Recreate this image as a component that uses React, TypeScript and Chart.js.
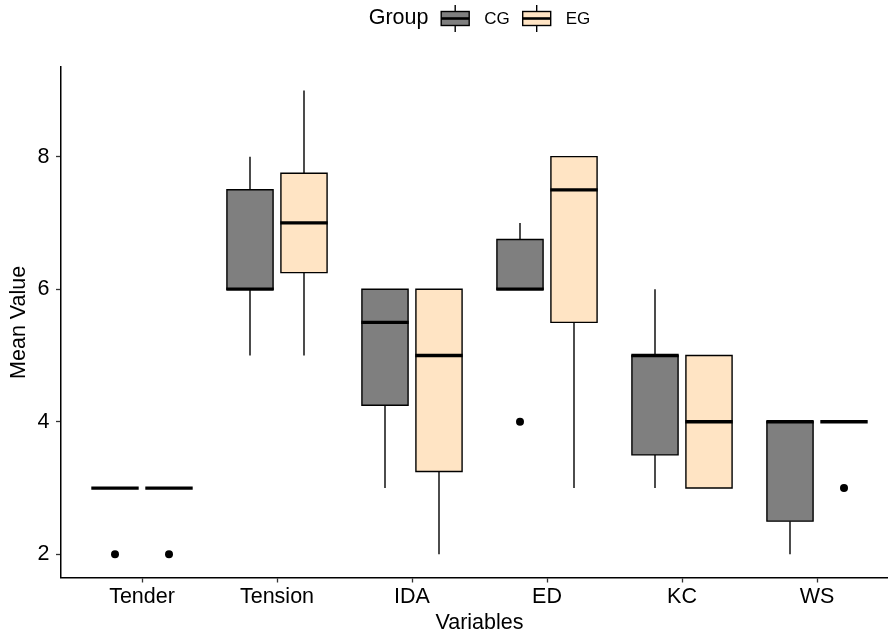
import React, { useEffect, useRef } from 'react';
import { Chart, registerables } from 'chart.js';

Chart.register(...registerables);

const categories = ['Tender', 'Tension', 'IDA', 'ED', 'KC', 'WS'];
const yTicks = [2, 4, 6, 8];

const cgLower = [3, 5, 3, 6, 3, 2];
const cgQ1 = [3, 6, 4.25, 6, 3.5, 2.5];
const cgMedian = [3, 6, 5.5, 6, 5, 4];
const cgQ3 = [3, 7.5, 6, 6.75, 5, 4];
const cgUpper = [3, 8, 6, 7, 6, 4];
const cgOutliers: number[][] = [[2], [], [], [4], [], []];

const egLower = [3, 5, 2, 3, 3, 4];
const egQ1 = [3, 6.25, 3.25, 5.5, 3, 4];
const egMedian = [3, 7, 5, 7.5, 4, 4];
const egQ3 = [3, 7.75, 6, 8, 5, 4];
const egUpper = [3, 9, 6, 8, 5, 4];
const egOutliers: number[][] = [[2], [], [], [], [], [3]];

const groupNames = ['CG', 'EG'];
const groupColors = ['#7F7F7F', '#FFE4C4'];
const legendTitle = 'Group';

const FONT = "'Liberation Sans', Arial, Helvetica, sans-serif";

const groups = [
  { lower: cgLower, q1: cgQ1, median: cgMedian, q3: cgQ3, upper: cgUpper, outliers: cgOutliers },
  { lower: egLower, q1: egQ1, median: egMedian, q3: egQ3, upper: egUpper, outliers: egOutliers },
];

const boxPlugin = {
  id: 'boxExtras',
  beforeDatasetsDraw(chart: any) {
    const ctx = chart.ctx;
    const y = chart.scales.y;
    ctx.save();
    groups.forEach((g, di) => {
      const meta = chart.getDatasetMeta(di);
      meta.data.forEach((bar: any, i: number) => {
        const { x } = bar.getProps(['x'], true);
        ctx.strokeStyle = '#000';
        ctx.lineWidth = 1.4;
        ctx.beginPath();
        ctx.moveTo(x, y.getPixelForValue(g.q3[i]));
        ctx.lineTo(x, y.getPixelForValue(g.upper[i]));
        ctx.moveTo(x, y.getPixelForValue(g.q1[i]));
        ctx.lineTo(x, y.getPixelForValue(g.lower[i]));
        ctx.stroke();
        ctx.fillStyle = '#000';
        g.outliers[i].forEach((v) => {
          ctx.beginPath();
          ctx.arc(x, y.getPixelForValue(v), 4, 0, Math.PI * 2);
          ctx.fill();
        });
      });
    });
    ctx.restore();
  },
  afterDatasetsDraw(chart: any) {
    const ctx = chart.ctx;
    const y = chart.scales.y;
    ctx.save();
    groups.forEach((g, di) => {
      const meta = chart.getDatasetMeta(di);
      meta.data.forEach((bar: any, i: number) => {
        const { x, width } = bar.getProps(['x', 'width'], true);
        const l = x - width / 2;
        const top = y.getPixelForValue(g.q3[i]);
        const bot = y.getPixelForValue(g.q1[i]);
        ctx.strokeStyle = '#000';
        ctx.lineWidth = 1.4;
        ctx.beginPath();
        ctx.moveTo(l, top);
        ctx.lineTo(l + width, top);
        ctx.lineTo(l + width, bot);
        ctx.lineTo(l, bot);
        ctx.closePath();
        ctx.stroke();
        const my = y.getPixelForValue(g.median[i]);
        ctx.lineWidth = 3.3;
        ctx.beginPath();
        ctx.moveTo(l - 0.6, my);
        ctx.lineTo(l + width + 0.6, my);
        ctx.stroke();
      });
    });
    ctx.restore();
  },
  afterDraw(chart: any) {
    const ctx = chart.ctx;
    const area = chart.chartArea;
    const cy = 18.5;
    const keyW = 28;
    ctx.save();
    ctx.textBaseline = 'middle';
    ctx.textAlign = 'left';
    ctx.fillStyle = '#000';
    ctx.font = `21.5px ${FONT}`;
    const titleW = ctx.measureText(legendTitle).width;
    ctx.font = `17px ${FONT}`;
    const labelWs = groupNames.map((n) => ctx.measureText(n).width);
    const total = titleW + 12.7 + groupNames.reduce((s, _, i) => s + keyW + 15 + labelWs[i], 0) + 13 * (groupNames.length - 1);
    let x = (area.left + area.right) / 2 - total / 2;
    ctx.font = `21.5px ${FONT}`;
    ctx.fillText(legendTitle, x, cy);
    x += titleW + 12.7;
    groupNames.forEach((name, i) => {
      const kx = x;
      const mid = kx + keyW / 2;
      ctx.strokeStyle = '#000';
      ctx.lineWidth = 1.4;
      ctx.beginPath();
      ctx.moveTo(mid, cy - 13.5);
      ctx.lineTo(mid, cy + 13.5);
      ctx.stroke();
      ctx.fillStyle = groupColors[i];
      ctx.fillRect(kx, cy - 7, keyW, 14);
      ctx.strokeRect(kx, cy - 7, keyW, 14);
      ctx.lineWidth = 2.6;
      ctx.beginPath();
      ctx.moveTo(kx, cy);
      ctx.lineTo(kx + keyW, cy);
      ctx.stroke();
      x += keyW + 15;
      ctx.fillStyle = '#000';
      ctx.font = `17px ${FONT}`;
      ctx.fillText(name, x, cy + 0.5);
      x += labelWs[i] + 13;
    });
    ctx.restore();
  },
};

export default function App() {
  const ref = useRef<HTMLCanvasElement>(null);
  useEffect(() => {
    const chart = new Chart(ref.current as HTMLCanvasElement, {
      type: 'bar',
      data: {
        datasets: groups.map((g, di) => ({
          label: groupNames[di],
          data: categories.map((_, i) => ({ x: i, y: [g.q1[i], g.q3[i]] })),
          backgroundColor: groupColors[di],
          borderWidth: 0,
          borderSkipped: false,
          categoryPercentage: 0.8,
          barPercentage: 0.855,
        })) as any,
      },
      plugins: [boxPlugin],
      options: {
        animation: false,
        responsive: true,
        maintainAspectRatio: false,
        layout: { padding: { top: 67.2, left: 0, right: 0, bottom: 0 } },
        plugins: { legend: { display: false }, tooltip: { enabled: false } },
        scales: {
          x: {
            type: 'linear',
            min: -0.6,
            max: 5.6,
            offset: false,
            afterBuildTicks: (scale: any) => {
              scale.ticks = categories.map((_, i) => ({ value: i }));
            },
            afterFit: (scale: any) => {
              scale.height = 58.5;
            },
            grid: { display: true, drawOnChartArea: false, drawTicks: true, tickLength: 5, tickColor: '#333', tickWidth: 1.3, offset: false },
            border: { display: true, color: '#000', width: 1.5 },
            ticks: {
              autoSkip: false,
              maxRotation: 0,
              padding: 1.5,
              color: '#000',
              font: { family: FONT, size: 21.5 },
              callback: (v: any) => categories[v as number] ?? '',
            },
            title: { display: true, text: 'Variables', color: '#000', font: { family: FONT, size: 21.5 }, padding: { top: 0, bottom: 0 } },
          },
          y: {
            type: 'linear',
            min: 1.65,
            max: 9.35,
            beginAtZero: false,
            afterBuildTicks: (scale: any) => {
              scale.ticks = yTicks.map((v) => ({ value: v }));
            },
            afterFit: (scale: any) => {
              scale.width = 61;
            },
            grid: { display: true, drawOnChartArea: false, drawTicks: true, tickLength: 5, tickColor: '#333', tickWidth: 1.3 },
            border: { display: true, color: '#000', width: 1.5 },
            ticks: {
              padding: 6.5,
              color: '#000',
              font: { family: FONT, size: 21.5 },
              callback: (v: any) => String(v),
            },
            title: { display: true, text: 'Mean Value', color: '#000', font: { family: FONT, size: 21.5 }, padding: { top: 6.3, bottom: 0 } },
          },
        },
      } as any,
    });
    return () => chart.destroy();
  }, []);
  return (
    <div style={{ position: 'absolute', left: 0, top: 0, width: 888, height: 636, overflow: 'hidden' }}>
      <div style={{ position: 'relative', width: 898, height: 636 }}>
        <canvas ref={ref} />
      </div>
    </div>
  );
}
